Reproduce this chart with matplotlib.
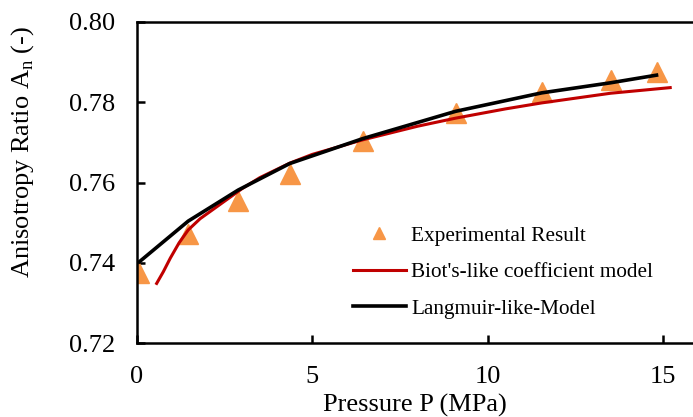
import matplotlib
matplotlib.use('Agg')
import matplotlib.pyplot as plt

plt.rcParams['font.family'] = 'Liberation Serif'
plt.rcParams['mathtext.fontset'] = 'custom'
plt.rcParams['mathtext.rm'] = 'Liberation Serif'

# experimental points
p_exp = [0.07, 1.46, 2.88, 4.35, 6.43, 9.08, 11.54, 13.50, 14.81]
a_exp = [0.7375, 0.7472, 0.7555, 0.7622, 0.7703, 0.7774, 0.7824, 0.7856, 0.7875]

# Biot's-like coefficient model (red)
p_biot = [0.56, 0.75, 0.95, 1.2, 1.46, 1.8, 2.2, 2.6, 3.0, 3.5, 4.35, 5.0, 6.43, 8.0, 9.08, 10.5, 11.54, 13.5, 15.2]
a_biot = [0.7349, 0.7378, 0.7412, 0.7450, 0.7482, 0.7510, 0.7535, 0.7560, 0.7585, 0.7612, 0.7648, 0.7670, 0.7706, 0.7740, 0.7760, 0.7783, 0.7798, 0.7822, 0.7836]

# Langmuir-like model (black)
p_lang = [0.07, 1.46, 2.88, 4.35, 6.43, 9.08, 11.54, 13.50, 14.81]
a_lang = [0.7403, 0.7504, 0.7581, 0.7647, 0.7709, 0.7777, 0.7823, 0.7848, 0.7867]

fig = plt.figure(figsize=(6.93, 4.17), dpi=100)
ax = fig.add_axes([0.1977, 0.1767, 0.8023, 0.7713])

ax.plot(p_exp, a_exp, linestyle='none', marker='^', ms=15, color='#F79646',
        label='Experimental Result')
ax.plot(p_biot, a_biot, color='#C00000', lw=2.2, label="Biot's-like coefficient model")
ax.plot(p_lang, a_lang, color='black', lw=2.6, label='Langmuir-like-Model')

ax.set_xlim(0, 15.85)
ax.set_ylim(0.72, 0.80)
ax.set_xticks([0, 5, 10, 15])
ax.set_yticks([0.72, 0.74, 0.76, 0.78, 0.80])
ax.set_yticklabels(['0.72', '0.74', '0.76', '0.78', '0.80'])

for s in ['left', 'bottom', 'top']:
    ax.spines[s].set_linewidth(1.8)
ax.spines['right'].set_visible(False)
ax.tick_params(direction='in', length=6, width=1.8, labelsize=19, pad=16)

ax.set_xlabel('Pressure P (MPa)', fontsize=19)
ax.set_ylabel(r'Anisotropy Ratio A$_\mathrm{n}$ (-)', fontsize=19)
ax.xaxis.set_label_coords(0.5, -0.158)
ax.yaxis.set_label_coords(-0.182, 0.595)

ax.legend(loc='upper left', bbox_to_anchor=(352.7 / 693, 1 - 226 / 417),
          bbox_transform=fig.transFigure, frameon=False, fontsize=15.3,
          markerscale=0.58, handlelength=2.5, handletextpad=0.24,
          borderpad=0, borderaxespad=0, labelspacing=0.78)

fig.savefig('out.png', dpi=100)
